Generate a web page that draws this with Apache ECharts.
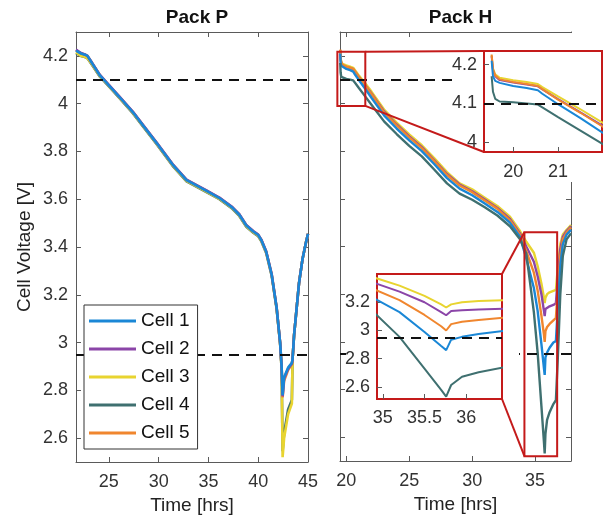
<!DOCTYPE html>
<html>
<head>
<meta charset="utf-8">
<script src="https://cdn.jsdelivr.net/npm/echarts@6/dist/echarts.min.js"></script>
<style>html,body{margin:0;padding:0;background:#fff}#c{width:612px;height:524px}</style>
</head>
<body>
<div id="c"></div>
<script>
// ---------- DATA ----------
const cellNames = ['Cell 1', 'Cell 2', 'Cell 3', 'Cell 4', 'Cell 5'];

// Pack P
const tP = [21.7, 22.2, 22.6, 22.85, 23.3, 24.1, 25.0, 26.0, 27.4, 28.5, 29.8, 31.4, 32.8, 34.8, 36.1, 37.4, 38.1, 38.8, 39.5, 40.0, 40.3, 40.8, 41.35, 41.85, 42.2, 42.35, 42.45, 42.6, 43.0, 43.38, 43.45, 43.6, 43.85, 44.1, 44.45, 44.8, 45.0];
const pCell1 = [4.222, 4.21, 4.205, 4.2, 4.17, 4.118, 4.077, 4.031, 3.965, 3.905, 3.835, 3.745, 3.68, 3.635, 3.605, 3.565, 3.535, 3.49, 3.465, 3.45, 3.43, 3.38, 3.285, 3.145, 3.0, 2.9, 2.78, 2.855, 2.895, 2.915, 2.93, 3.03, 3.14, 3.25, 3.35, 3.42, 3.455];
const pCell2 = [4.226, 4.212, 4.206, 4.2, 4.172, 4.12, 4.079, 4.033, 3.967, 3.907, 3.837, 3.747, 3.682, 3.637, 3.607, 3.567, 3.537, 3.492, 3.467, 3.452, 3.432, 3.382, 3.287, 3.147, 3.0, 2.9, 2.775, 2.85, 2.89, 2.912, 2.93, 3.03, 3.14, 3.25, 3.35, 3.42, 3.455];
const pCell3 = [4.215, 4.2, 4.196, 4.19, 4.165, 4.115, 4.074, 4.028, 3.962, 3.902, 3.832, 3.742, 3.677, 3.632, 3.602, 3.562, 3.532, 3.487, 3.462, 3.447, 3.427, 3.377, 3.282, 3.142, 2.995, 2.89, 2.52, 2.6, 2.7, 2.745, 2.93, 3.03, 3.14, 3.25, 3.35, 3.42, 3.455];
const pCell4 = [4.212, 4.2, 4.195, 4.19, 4.163, 4.113, 4.072, 4.026, 3.96, 3.9, 3.83, 3.74, 3.675, 3.63, 3.6, 3.56, 3.53, 3.485, 3.46, 3.445, 3.425, 3.375, 3.28, 3.14, 2.995, 2.89, 2.545, 2.62, 2.72, 2.76, 2.93, 3.03, 3.14, 3.25, 3.35, 3.42, 3.455];
const pCell5 = [4.224, 4.211, 4.205, 4.2, 4.171, 4.119, 4.078, 4.032, 3.966, 3.906, 3.836, 3.746, 3.681, 3.636, 3.606, 3.566, 3.536, 3.491, 3.466, 3.451, 3.431, 3.381, 3.286, 3.146, 3.0, 2.9, 2.77, 2.84, 2.885, 2.91, 2.93, 3.03, 3.14, 3.25, 3.35, 3.42, 3.455];

// Pack H
const tH = [19.52, 19.55, 19.6, 19.7, 20.0, 20.3, 20.55, 20.65, 21.0, 21.5, 22.0, 23.0, 24.0, 25.0, 26.0, 27.0, 28.0, 29.0, 30.0, 31.0, 32.0, 33.0, 33.8, 34.3, 34.9, 35.2, 35.5, 35.7, 35.76, 35.82, 35.95, 36.15, 36.45, 36.65, 36.8, 37.0, 37.2, 37.5, 37.85];
const hCell1 = [4.21, 4.17, 4.158, 4.153, 4.145, 4.14, 4.134, 4.125, 4.098, 4.062, 4.024, 3.95, 3.895, 3.845, 3.8, 3.745, 3.687, 3.643, 3.615, 3.58, 3.545, 3.50, 3.44, 3.35, 3.226, 3.13, 2.99, 2.89, 2.861, 2.935, 2.955, 2.975, 2.997, 3.003, 3.14, 3.32, 3.41, 3.45, 3.47];
const hCell2 = [4.222, 4.185, 4.17, 4.16, 4.154, 4.149, 4.144, 4.136, 4.111, 4.077, 4.042, 3.967, 3.912, 3.862, 3.817, 3.762, 3.704, 3.66, 3.632, 3.597, 3.562, 3.516, 3.455, 3.40, 3.336, 3.275, 3.2, 3.13, 3.108, 3.138, 3.144, 3.149, 3.155, 3.162, 3.27, 3.39, 3.44, 3.465, 3.485];
const hCell3 = [4.224, 4.19, 4.175, 4.166, 4.16, 4.155, 4.15, 4.142, 4.118, 4.085, 4.05, 3.975, 3.92, 3.87, 3.825, 3.77, 3.712, 3.665, 3.64, 3.605, 3.57, 3.525, 3.465, 3.42, 3.374, 3.318, 3.245, 3.185, 3.163, 3.185, 3.2, 3.208, 3.214, 3.218, 3.31, 3.41, 3.45, 3.47, 3.49];
const hCell4 = [4.17, 4.13, 4.112, 4.105, 4.103, 4.1, 4.097, 4.09, 4.065, 4.03, 3.995, 3.925, 3.872, 3.822, 3.778, 3.722, 3.665, 3.622, 3.596, 3.565, 3.53, 3.485, 3.43, 3.37, 3.125, 2.955, 2.73, 2.58, 2.532, 2.614, 2.673, 2.705, 2.739, 2.755, 2.93, 3.2, 3.36, 3.43, 3.455];
const hCell5 = [4.226, 4.188, 4.172, 4.162, 4.155, 4.15, 4.145, 4.137, 4.11, 4.076, 4.04, 3.963, 3.908, 3.858, 3.813, 3.758, 3.70, 3.656, 3.628, 3.593, 3.558, 3.51, 3.45, 3.38, 3.29, 3.215, 3.11, 3.03, 3.0, 3.045, 3.062, 3.075, 3.09, 3.1, 3.22, 3.36, 3.43, 3.46, 3.48];

// Tick labels
const xTicksP = [25, 30, 35, 40, 45];
const xTicksH = [20, 25, 30, 35];
const yTicksMain = [2.6, 2.8, 3.0, 3.2, 3.4, 3.6, 3.8, 4.0, 4.2];
const xTicksInsetUp = [20, 21];
const yTicksInsetUp = [4.0, 4.1, 4.2];
const xTicksInsetLo = [35, 35.5, 36];
const yTicksInsetLo = [2.6, 2.8, 3.0, 3.2];

// Voltage limits (dashed lines)
const voltageLimits = [4.1, 2.95];

// Zoomed regions (data units) marked on Pack H
const zoomUpX = [19.29, 21.51], zoomUpY = [3.99, 4.217];
const zoomLoX = [34.15, 36.75], zoomLoY = [2.52, 3.46];

// ---------- STYLE ----------
const colors = ['#1a87d6', '#8b45a8', '#e8d430', '#3f7070', '#f0862e'];
const FONT = "'Liberation Sans', Arial, Helvetica, sans-serif";
const AX = '#5a5a5a', TXT = '#333', RED = '#c41a1a';

const packP = [pCell1, pCell2, pCell3, pCell4, pCell5];
const packH = [hCell1, hCell2, hCell3, hCell4, hCell5];
const zip = (t, v) => t.map((x, i) => [x, v[i]]);

const grids = [
  {left: 76, top: 32, width: 232, height: 430},
  {left: 340, top: 32, width: 231, height: 429},
  {left: 484, top: 51, width: 118, height: 101, show: true, borderColor: RED, borderWidth: 2, z: 9},
  {left: 377, top: 274, width: 125, height: 125, show: true, borderColor: RED, borderWidth: 2, z: 9}
];

function axis(o) {
  const a = {
    type: 'value', gridIndex: o.g, min: o.min, max: o.max, position: o.pos,
    axisLine: {show: o.line !== false, onZero: false, lineStyle: {color: AX, width: 1}},
    axisTick: {show: true, inside: true, length: 5, lineStyle: {color: AX}},
    axisLabel: {show: !!o.labels, fontSize: 18, color: TXT, fontFamily: FONT, margin: o.margin || 8},
    splitLine: {show: false},
    z: o.z || 0
  };
  if (o.ticks) { a.axisTick.customValues = o.ticks; a.axisLabel.customValues = o.ticks; }
  if (o.name) {
    a.name = o.name; a.nameLocation = 'middle'; a.nameGap = o.nameGap;
    a.nameTextStyle = {fontSize: 19, color: '#222', fontFamily: FONT};
  }
  return a;
}

// axis index per panel: 0 = Pack P, 2 = Pack H, 4 = upper inset, 5 = lower inset
const xAxes = [
  axis({g: 0, min: 21.7, max: 45, pos: 'bottom', ticks: xTicksP, labels: true, margin: 11, name: 'Time [hrs]', nameGap: 32}),
  axis({g: 0, min: 21.7, max: 45, pos: 'top', ticks: xTicksP}),
  axis({g: 1, min: 19.5, max: 37.85, pos: 'bottom', ticks: xTicksH, labels: true, margin: 11, name: 'Time [hrs]', nameGap: 32}),
  axis({g: 1, min: 19.5, max: 37.85, pos: 'top', ticks: xTicksH}),
  axis({g: 2, min: 19.35, max: 21.98, pos: 'bottom', ticks: xTicksInsetUp, labels: true, margin: 11, line: false, z: 9}),
  axis({g: 3, min: 34.93, max: 36.43, pos: 'bottom', ticks: xTicksInsetLo, labels: true, margin: 10, line: false, z: 9})
];
const yAxes = [
  axis({g: 0, min: 2.5, max: 4.3, pos: 'left', ticks: yTicksMain, labels: true, margin: 8, name: 'Cell Voltage [V]', nameGap: 42}),
  axis({g: 0, min: 2.5, max: 4.3, pos: 'right', ticks: yTicksMain}),
  axis({g: 1, min: 2.5, max: 4.3, pos: 'left', ticks: yTicksMain}),
  axis({g: 1, min: 2.5, max: 4.3, pos: 'right', ticks: yTicksMain}),
  axis({g: 2, min: 3.975, max: 4.235, pos: 'left', ticks: yTicksInsetUp, labels: true, margin: 7, line: false, z: 9}),
  axis({g: 3, min: 2.515, max: 3.4, pos: 'left', ticks: yTicksInsetLo, labels: true, margin: 7, line: false, z: 9})
];

const series = [];
const orderP = [3, 2, 4, 1, 0];   // draw order (Cell 1 on top)
const orderH = [2, 1, 4, 0, 3];
function addLines(pack, t, axIdx, order, width, zBase) {
  order.forEach((ci, k) => {
    series.push({
      type: 'line', name: cellNames[ci], xAxisIndex: axIdx, yAxisIndex: axIdx,
      data: zip(t, pack[ci]), symbol: 'none', showSymbol: false, color: colors[ci],
      lineStyle: {width: width, color: colors[ci]}, z: zBase + k, silent: true,
      emphasis: {disabled: true}
    });
  });
}
function addLimits(axIdx, z) {
  series.push({
    type: 'line', name: '', xAxisIndex: axIdx, yAxisIndex: axIdx, data: [], z: z, silent: true,
    markLine: {
      silent: true, symbol: 'none', label: {show: false}, animation: false, z: z,
      lineStyle: {type: [10, 7], color: '#111', width: 2},
      data: voltageLimits.map(v => ({yAxis: v}))
    }
  });
}
addLines(packP, tP, 0, orderP, 2.6, 2);
addLimits(0, 7);
addLines(packH, tH, 2, orderH, 2.4, 2);
addLimits(2, 7);
addLines(packH, tH, 4, orderH, 2, 10);
addLimits(4, 16);
addLines(packH, tH, 5, orderH, 2, 10);
addLimits(5, 16);

const chart = echarts.init(document.getElementById('c'), null, {renderer: 'canvas'});
chart.setOption({
  animation: false,
  backgroundColor: '#fff',
  title: [
    {text: 'Pack P', left: 192, top: 3, textAlign: 'center', textStyle: {fontSize: 19, fontWeight: 'bold', color: '#111', fontFamily: FONT}},
    {text: 'Pack H', left: 455.5, top: 3, textAlign: 'center', textStyle: {fontSize: 19, fontWeight: 'bold', color: '#111', fontFamily: FONT}}
  ],
  legend: {
    data: cellNames, left: 84, top: 305, orient: 'vertical', icon: 'rect',
    itemWidth: 47, itemHeight: 3, itemGap: 8, padding: [6, 8, 6, 5],
    borderColor: '#333', borderWidth: 1, backgroundColor: '#fff', selectedMode: false, z: 20,
    textStyle: {fontSize: 19, color: '#111', fontFamily: FONT, lineHeight: 20}
  },
  grid: grids,
  xAxis: xAxes,
  yAxis: yAxes,
  series: series
});

// ---------- inset decorations ----------
const px = (idx, pt) => chart.convertToPixel({xAxisIndex: idx, yAxisIndex: idx}, pt);
const gu = grids[2], gl = grids[3];
const upTL = px(2, [zoomUpX[0], zoomUpY[1]]), upBR = px(2, [zoomUpX[1], zoomUpY[0]]);
const loTL = px(2, [zoomLoX[0], zoomLoY[1]]), loBR = px(2, [zoomLoX[1], zoomLoY[0]]);
const redLine = {stroke: RED, lineWidth: 2, fill: null};
chart.setOption({
  graphic: [
    // white backgrounds of the inset axes (cover main plot underneath)
    {type: 'rect', z: 8, silent: true, shape: {x: gu.left - 29, y: 33, width: 612 - (gu.left - 29), height: gu.top + gu.height + 4 - 33}, style: {fill: '#fff'}},
    {type: 'rect', z: 8, silent: true, shape: {x: gu.left + 10, y: 33, width: 612 - (gu.left + 10), height: gu.top + gu.height + 30 - 33}, style: {fill: '#fff'}},
    {type: 'rect', z: 8, silent: true, shape: {x: gl.left - 31, y: gl.top - 6, width: gl.width + 48, height: gl.height + 33}, style: {fill: '#fff'}},
    // zoom rectangles on the main Pack H plot
    {type: 'rect', z: 30, silent: true, shape: {x: upTL[0], y: upTL[1], width: upBR[0] - upTL[0], height: upBR[1] - upTL[1]}, style: redLine},
    {type: 'rect', z: 30, silent: true, shape: {x: loTL[0], y: loTL[1], width: loBR[0] - loTL[0], height: loBR[1] - loTL[1]}, style: redLine},
    // connectors
    {type: 'line', z: 30, silent: true, shape: {x1: upBR[0], y1: upTL[1], x2: gu.left, y2: gu.top}, style: redLine},
    {type: 'line', z: 30, silent: true, shape: {x1: upBR[0], y1: upBR[1], x2: gu.left, y2: gu.top + gu.height}, style: redLine},
    {type: 'line', z: 30, silent: true, shape: {x1: loTL[0], y1: loTL[1], x2: gl.left + gl.width, y2: gl.top}, style: redLine},
    {type: 'line', z: 30, silent: true, shape: {x1: loTL[0], y1: loBR[1], x2: gl.left + gl.width, y2: gl.top + gl.height}, style: redLine}
  ]
});
</script>
</body>
</html>
